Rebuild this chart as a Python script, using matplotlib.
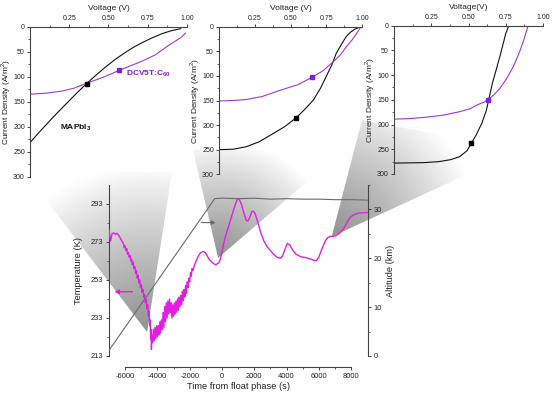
import numpy as np
import matplotlib.pyplot as plt
from matplotlib.patches import Polygon

plt.rcParams['font.family'] = ['Liberation Sans', 'DejaVu Sans']
plt.rcParams['mathtext.fontset'] = 'custom'
plt.rcParams['mathtext.rm'] = 'Liberation Sans'
plt.rcParams['mathtext.bf'] = 'Liberation Sans:bold'
plt.rcParams['axes.unicode_minus'] = False

# balloon flight: temperature of the payload vs time from float phase
time_s = [-6990, -6950, -6900, -6850, -6800, -6700, -6600, -6500, -6400, -6300,
          -6200, -6100, -6050, -6000, -5950, -5900, -5850, -5800, -5750, -5700,
          -5650, -5600, -5550, -5500, -5450, -5400, -5350, -5300, -5250, -5200,
          -5150, -5100, -5050, -5000, -4950, -4900, -4850, -4800, -4750, -4700,
          -4650, -4600, -4560, -4520, -4480, -4450, -4420, -4400, -4370, -4340,
          -4300, -4250, -4200, -4150, -4100, -4050, -4000, -3950, -3900, -3850,
          -3800, -3750, -3700, -3650, -3600, -3550, -3500, -3450, -3400, -3350,
          -3300, -3250, -3200, -3150, -3100, -3050, -3000, -2950, -2900, -2850,
          -2800, -2750, -2700, -2650, -2600, -2550, -2500, -2450, -2400, -2350,
          -2300, -2250, -2200, -2150, -2100, -2050, -2000, -1950, -1900, -1850,
          -1800, -1700, -1600, -1500, -1400, -1300, -1200, -1100, -1000, -900,
          -800, -700, -600, -500, -400, -300, -200, -100, 0, 100,
          200, 400, 600, 800, 950, 1050, 1200, 1350, 1500, 1600,
          1700, 1850, 1950, 2050, 2200, 2400, 2600, 2800, 3000, 3200,
          3400, 3600, 3750, 3900, 4050, 4200, 4400, 4600, 4900, 5200,
          5500, 5750, 5850, 6000, 6200, 6400, 6550, 6700, 6900, 7100,
          7300, 7500, 7700, 7900, 8100, 8300, 8500, 8700, 9000]
temp_k = [279, 276, 273.5, 276, 277.5, 277.8, 277, 277.6, 276.5, 275,
          273.5, 272, 270, 271, 268.5, 269.5, 266.5, 267.5, 265, 266,
          263, 264, 261, 262.5, 259, 260, 256.5, 258, 254, 255.5,
          251.5, 253, 249, 250.5, 246.5, 248, 244, 245.5, 241, 243,
          238, 240, 234, 236.5, 229, 232, 222, 227, 216.5, 224,
          220, 227, 221, 228, 222, 229, 223, 229, 224, 231,
          225, 232, 227, 236, 228, 239, 231, 241, 233, 242,
          235, 243, 236, 241, 233, 240, 234, 241, 235, 242,
          236, 243, 237, 244, 239, 245, 240, 247, 242, 248,
          244, 250, 246, 252, 249, 254, 252, 257, 255, 259,
          258, 261, 263, 265, 266.5, 267.5, 268, 267.8, 267, 265.5,
          264, 263, 262.2, 261.5, 261, 261.5, 262, 264, 267.5, 272,
          275.5, 281, 286.5, 292, 295.5, 295.8, 293, 288.5, 284.5, 284,
          285.5, 289, 289.2, 288, 284, 278, 273.5, 270.5, 268.5, 266.5,
          265, 264.4, 265.5, 269, 272.3, 271.5, 268.5, 266.5, 265.2, 264.8,
          264, 263.2, 263.3, 265, 269.5, 273.5, 275.3, 275.9, 276, 276.5,
          277.8, 279.5, 282.5, 285.5, 287, 287.8, 288.2, 288.3, 288.5]

# altitude of the balloon
alt_time = [-6990, -450, 0, 1000, 2000, 3000, 4000, 5000, 6000, 7000, 8000, 9000]
alt_km = [1.2, 32.2, 32.3, 32.2, 32.3, 32.1, 32.2, 32.1, 32.1, 32.0, 32.0, 31.9]

# J-V curves at three moments of the flight (MAPbI3 = black, DCV5T:C60 = purple)
jv1_mapi_v = [0, 0.05, 0.1, 0.15, 0.2, 0.25, 0.3, 0.36, 0.42, 0.48, 0.54, 0.6,
              0.66, 0.72, 0.78, 0.84, 0.9, 0.96]
jv1_mapi_j = [232, 214, 197, 180, 164, 148, 132, 114, 97, 81, 66, 53,
              41, 31, 22, 14, 8, 4]
jv1_dcv_v = [0, 0.1, 0.2, 0.28, 0.36, 0.45, 0.52, 0.57, 0.65, 0.72, 0.8, 0.87,
             0.92, 0.96, 0.99]
jv1_dcv_j = [135, 133, 129, 123, 113, 103, 94, 87, 77, 68, 56, 40,
             30, 22, 13]
jv1_mark = [(0.36, 114), (0.57, 87)]

jv2_mapi_v = [0, 0.1, 0.19, 0.28, 0.38, 0.46, 0.54, 0.6, 0.66, 0.71, 0.75, 0.79,
              0.82, 0.86, 0.89, 0.92, 0.95, 0.99]
jv2_mapi_j = [250, 249, 244, 234, 217, 203, 185, 168, 149, 125, 101, 77,
              54, 34, 20, 11, 5, 0]
jv2_dcv_v = [0, 0.1, 0.19, 0.3, 0.43, 0.55, 0.65, 0.73, 0.8, 0.85, 0.89, 0.93,
             0.96, 0.99]
jv2_dcv_j = [151, 150, 148, 142, 129, 118, 103, 89, 71, 57, 41, 27,
             15, 1]
jv2_mark = [(0.54, 185), (0.65, 103)]

jv3_mapi_v = [0, 0.1, 0.2, 0.3, 0.38, 0.44, 0.49, 0.52, 0.55, 0.59, 0.62, 0.66,
              0.71, 0.75, 0.77]
jv3_mapi_j = [278, 277.5, 277, 275, 271, 265, 253, 237, 222, 197, 171, 117,
              63, 16, 0]
jv3_dcv_v = [0, 0.1, 0.22, 0.33, 0.44, 0.51, 0.56, 0.6, 0.63, 0.67, 0.71, 0.76,
             0.8, 0.84, 0.87, 0.9]
jv3_dcv_j = [189, 188, 185, 181, 174, 168, 160, 155, 150, 140, 127, 105,
             83, 55, 30, 0]
jv3_mark = [(0.52, 237), (0.63, 150)]

# points on the flight curve that each inset zooms from (time, temperature)
wedge_apex = [(-4640, 225.6), (-240, 264.6), (6800, 275.8)]

W, H = 554, 397
MAG = '#e21fe0'
PUR = '#9a3ad8'
PURM = '#7d1fe6'
GRY = '#6a6a6a'
TXT = '#222222'


def fax(l, t, r, b):
    return [l / W, 1 - b / H, (r - l) / W, (b - t) / H]


fig = plt.figure(figsize=(W / 100, H / 100), dpi=100)

bg = fig.add_axes([0, 0, 1, 1], zorder=0)
bg.set_xlim(0, W)
bg.set_ylim(H, 0)
bg.axis('off')

ax = fig.add_axes(fax(109, 185, 368, 356), zorder=1)
ax.patch.set_visible(False)
ax.plot(time_s, temp_k, color=MAG, lw=1.0, zorder=3)
ax.set_xlim(-7000, 9050)
ax.set_ylim(213, 303)
ax.spines[['top', 'right']].set_visible(False)
ax.spines['bottom'].set_position(('outward', 8))
ax.spines['bottom'].set_bounds(-6000, 8000)
ax.set_xticks(range(-6000, 8001, 2000))
ax.set_xticks(range(-5000, 8000, 2000), minor=True)
ax.set_yticks([213, 233, 253, 273, 293])
ax.set_yticks([223, 243, 263, 283], minor=True)
ax.set_xlabel('Time from float phase (s)', fontsize=6.7, color=TXT, labelpad=2)
ax.set_ylabel('Temperature (K)', fontsize=6.7, color=TXT, labelpad=6)
ax.annotate('', xy=(-6830, 246.8), xytext=(-5380, 246.8),
            arrowprops=dict(arrowstyle='-|>', color=MAG, lw=1.0, mutation_scale=6))

ax2 = ax.twinx()
ax2.plot(alt_time, alt_km, color=GRY, lw=0.8)
ax2.set_ylim(0, 35)
ax2.spines[['top', 'bottom', 'left']].set_visible(False)
ax2.set_yticks([0, 10, 20, 30])
ax2.set_yticks([5, 15, 25, 35], minor=True)
ax2.set_ylabel('Altitude (km)', fontsize=6.7, color=TXT, labelpad=3)
ax2.annotate('', xy=(-220, 27.3), xytext=(-1460, 27.3),
             arrowprops=dict(arrowstyle='-|>', color=GRY, lw=0.8, mutation_scale=6))

for a in (ax, ax2):
    for s in a.spines.values():
        s.set_color('#444444')
        s.set_linewidth(0.8)
    a.tick_params(direction='out', length=2.5, width=0.7, labelsize=5.4,
                  pad=1.5, colors='#444444', labelcolor=TXT)
    a.tick_params(which='minor', direction='out', length=1.5, width=0.6, colors='#444444')

# shaded wedges from the flight curve up to each inset
tops = [((25, 172), (172, 172)), ((193, 150), (344, 150)), ((362, 120), (520, 150))]
yy, xx = np.mgrid[0:H, 0:W] + 0.5
for (at, aT), (tl, tr) in zip(wedge_apex, tops):
    dx, dy = ax.transData.transform((at, aT))
    px, py = dx, H - dy
    mx, my = (tl[0] + tr[0]) / 2, (tl[1] + tr[1]) / 2
    L = np.hypot(mx - px, my - py)
    d = np.clip(np.hypot(xx - px, yy - py) / L, 0, 1)
    shade = 0.58 + 0.42 * d ** 1.2
    img = np.dstack([shade, shade, shade])
    poly = Polygon([tl, tr, (px, py)], closed=True, transform=bg.transData)
    im = bg.imshow(img, extent=(0, W, H, 0), interpolation='bilinear', aspect='auto')
    im.set_clip_path(poly)


def jv_axes(box, xlabel, mapi, dcv, marks):
    a = fig.add_axes(fax(*box), zorder=3)
    a.patch.set_visible(False)
    a.plot(mapi[0], mapi[1], color='#111111', lw=0.8)
    a.plot(dcv[0], dcv[1], color=PUR, lw=0.8)
    a.plot(*marks[0], 's', color='#000000', ms=3.2)
    a.plot(*marks[1], 's', color=PURM, ms=3.2)
    a.set_xlim(0, 1.0)
    a.set_ylim(300, 0)
    a.spines[['right', 'bottom']].set_visible(False)
    for s in ('left', 'top'):
        a.spines[s].set_color('#444444')
        a.spines[s].set_linewidth(0.8)
    a.xaxis.tick_top()
    a.xaxis.set_label_position('top')
    a.set_xticks([0.25, 0.5, 0.75, 1.0])
    a.set_xticklabels(['0.25', '0.50', '0.75', '1.00'])
    a.set_xticks([0.125, 0.375, 0.625, 0.875], minor=True)
    a.set_yticks(range(0, 301, 50))
    a.set_yticks(range(25, 300, 50), minor=True)
    a.tick_params(direction='out', length=2.5, width=0.7, labelsize=5,
                  pad=1.2, colors='#444444', labelcolor=TXT)
    a.tick_params(which='minor', direction='out', length=1.5, width=0.6, colors='#444444')
    a.set_xlabel(xlabel, fontsize=6, color=TXT, labelpad=3)
    a.set_ylabel('Current Density (A/m$^2$)', fontsize=6, color=TXT, labelpad=0)
    return a


a1 = jv_axes((30, 26.7, 187, 176.7), 'Voltage (V)',
             (jv1_mapi_v, jv1_mapi_j), (jv1_dcv_v, jv1_dcv_j), jv1_mark)
a1.text(0.19, 203, 'MAPbI$_\\mathbf{3}$', fontsize=6, fontweight='bold', color='#111111', va='center')
a1.text(0.61, 95, 'DCV5T:C$_\\mathbf{60}$', fontsize=6, fontweight='bold', color=PURM, va='center')
jv_axes((219, 26.7, 362, 174.3), 'Voltage (V)',
        (jv2_mapi_v, jv2_mapi_j), (jv2_dcv_v, jv2_dcv_j), jv2_mark)
jv_axes((394, 25.7, 543, 174), 'Voltage(V)',
        (jv3_mapi_v, jv3_mapi_j), (jv3_dcv_v, jv3_dcv_j), jv3_mark)

fig.savefig('out.png', dpi=100)
